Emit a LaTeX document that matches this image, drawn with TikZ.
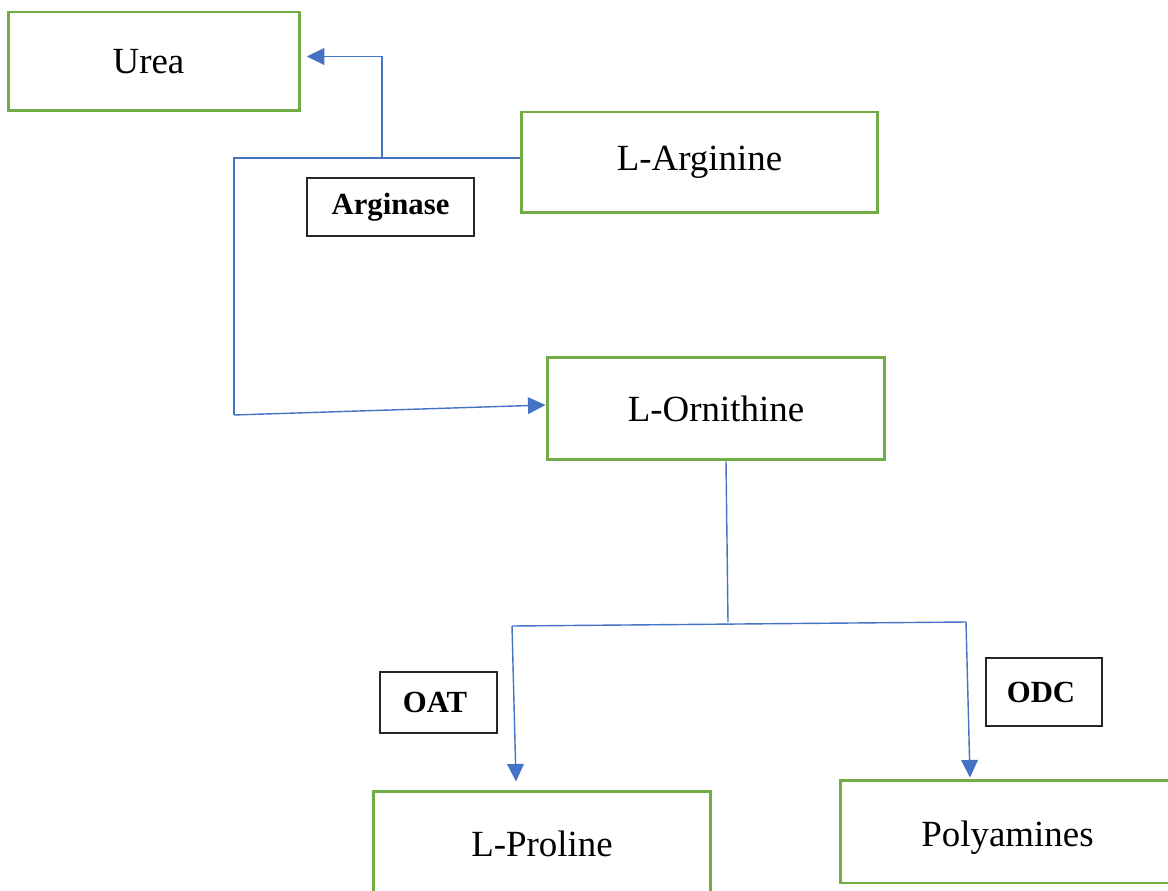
\documentclass[tikz,border=0pt]{standalone}
\usepackage{fontspec}
\setmainfont{Liberation Serif}
\usetikzlibrary{arrows.meta}
\definecolor{boxgreen}{HTML}{70AD47}
\definecolor{lineblue}{HTML}{4472C4}
\tikzset{
  compound/.style={draw=boxgreen, line width=1.7pt, fill=white, inner sep=0pt, font=\fontsize{21}{25}\selectfont},
  enzyme/.style={draw=black!85, line width=0.8pt, fill=white, inner sep=0pt, font=\fontsize{17.5}{21}\selectfont\bfseries},
  link/.style={draw=lineblue, line width=0.8pt},
  arr/.style={link, -{Triangle[length=10pt, width=9.5pt]}}
}
\begin{document}
\begin{tikzpicture}[x=0.02cm, y=-0.02cm]
\useasboundingbox (0,0) rectangle (1168,891);
% compounds
\node[compound, minimum width=5.84cm, minimum height=1.98cm] (urea) at (154,61.5) {Urea\hspace*{0.22cm}};
\node[compound, minimum width=7.14cm, minimum height=2.02cm] (arg) at (699.5,162.5) {L-Arginine};
\node[compound, minimum width=6.76cm, minimum height=2.06cm] (orn) at (716,408.5) {L-Ornithine};
\node[compound, minimum width=6.76cm, minimum height=2.1cm] (pro) at (542,843.5) {L-Proline};
\node[compound, minimum width=6.7cm, minimum height=2.06cm, text depth=0.05cm] (poly) at (1007.5,831.5) {\raisebox{-0.14cm}{Polyamines}};
% enzymes
\node[enzyme, minimum width=3.34cm, minimum height=1.16cm] (arginase) at (390.5,207) {Arginase};
\node[enzyme, minimum width=2.34cm, minimum height=1.22cm] (oat) at (438.5,702.5) {OAT\hspace*{0.14cm}};
\node[enzyme, minimum width=2.32cm, minimum height=1.36cm] (odc) at (1044,692) {ODC\hspace*{0.12cm}};
% junctions
\coordinate (j1) at (234,158);
\coordinate (j2) at (234,415);
\coordinate (j3) at (382,158);
\coordinate (k0) at (728,622);
\coordinate (k1) at (512,626);
\coordinate (k2) at (966,622);
% connectors
\draw[link] (arg.west |- j1) -- (j1) -- (j2);
\draw[arr] (j2) -- ([yshift=0.07cm]orn.west);
\draw[arr] (j3) |- ([yshift=0.1cm, xshift=3pt]urea.east);
\draw[link] ([xshift=0.2cm]orn.south) -- (k0);
\draw[link] (k1) -- (k2);
\draw[arr] (k1) -- ([xshift=-0.52cm, yshift=0.16cm]pro.north);
\draw[arr] (k2) -- ([xshift=-0.75cm, yshift=0.02cm]poly.north);
\end{tikzpicture}
\end{document}
